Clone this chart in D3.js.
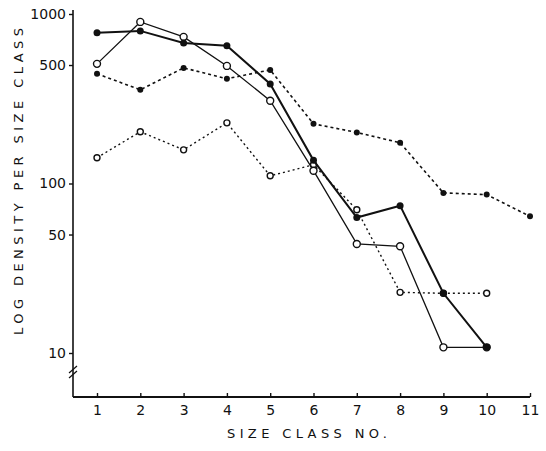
<!DOCTYPE html>
<html>
<head>
<meta charset="utf-8">
<script src="https://cdn.jsdelivr.net/npm/d3@7.9.0/dist/d3.min.js"></script>
<style>
  body { margin: 0; background: #fff; }
  svg { display: block; }
  text { font-family: "DejaVu Sans", sans-serif; fill: #111; }
</style>
</head>
<body>
<svg id="chart" width="546" height="451"></svg>
<script>
// ---------- Data ----------
const sizeClasses = [1, 2, 3, 4, 5, 6, 7, 8, 9, 10, 11];
const yTickValues = [10, 50, 100, 500, 1000];

// solid line, filled circles
const solidFilled = [775, 795, 675, 650, 387, 137, 63, 74, 22.5, 10.8];
// solid line, open circles
const solidOpen = [508, 898, 733, 494, 308, 119, 44, 42.6, 10.8, 10.8];
// dotted line, filled dots
const dottedFilled = [444, 357, 481, 415, 468, 225, 200, 174, 88, 86, 64];
// dotted line, open circles
const dottedOpen = [142, 202, 158, 228, 111, 129, 70, 22.8, 22.5, 22.5];

// ---------- Setup ----------
const svg = d3.select("#chart");
const x = d3.scaleLinear().domain([1, 11]).range([97, 530]);
const y = d3.scaleLog().domain([10, 1000]).range([353, 14]);

const axisX = 73, axisY = 397;

// ---------- Axes ----------
svg.append("line")
  .attr("x1", axisX).attr("x2", axisX)
  .attr("y1", 10).attr("y2", axisY)
  .attr("stroke", "#111").attr("stroke-width", 1.6);

svg.append("line")
  .attr("x1", axisX).attr("x2", x(11))
  .attr("y1", axisY).attr("y2", axisY)
  .attr("stroke", "#111").attr("stroke-width", 1.8);

// axis break marks
[0, 5].forEach((off) => {
  svg.append("line")
    .attr("x1", axisX - 4).attr("y1", 373 + off)
    .attr("x2", axisX + 4).attr("y2", 366 + off)
    .attr("stroke", "#111").attr("stroke-width", 1.2);
});

const yAxis = d3.axisLeft(y)
  .tickValues(yTickValues)
  .tickFormat(d3.format("d"))
  .tickSize(4)
  .tickPadding(3);

const gy = svg.append("g").attr("transform", `translate(${axisX},0)`).call(yAxis);
gy.select(".domain").remove();
gy.selectAll("text").attr("font-size", 14).attr("fill", "#111");
gy.selectAll("line").attr("stroke", "#111").attr("stroke-width", 1.4);

const xAxis = d3.axisBottom(x)
  .tickValues(sizeClasses)
  .tickFormat(d3.format("d"))
  .tickSize(-4)
  .tickPadding(8);

const gx = svg.append("g").attr("transform", `translate(0,${axisY})`).call(xAxis);
gx.select(".domain").remove();
gx.selectAll("text").attr("font-size", 14).attr("fill", "#111");
gx.selectAll("line").attr("stroke", "#111").attr("stroke-width", 1.4);

// ---------- Axis titles ----------
svg.append("text")
  .attr("x", 227).attr("y", 438)
  .attr("font-size", 13)
  .attr("textLength", 160)
  .attr("lengthAdjust", "spacing")
  .text("SIZE CLASS NO.");

svg.append("text")
  .attr("transform", "translate(23,335) rotate(-90)")
  .attr("font-size", 13)
  .attr("textLength", 307)
  .attr("lengthAdjust", "spacing")
  .text("LOG DENSITY PER SIZE CLASS");

// ---------- Series ----------
const line = d3.line()
  .x((d, i) => x(sizeClasses[i]))
  .y((d) => y(d));

function drawSeries(values, opts) {
  svg.append("path")
    .datum(values)
    .attr("d", line)
    .attr("fill", "none")
    .attr("stroke", "#111")
    .attr("stroke-width", opts.width)
    .attr("stroke-dasharray", opts.dash || null);

  svg.selectAll(null)
    .data(values)
    .join("circle")
    .attr("cx", (d, i) => x(sizeClasses[i]))
    .attr("cy", (d) => y(d))
    .attr("r", opts.r)
    .attr("fill", opts.filled ? "#111" : "#fff")
    .attr("stroke", "#111")
    .attr("stroke-width", opts.filled ? 0 : 1.4);
}

drawSeries(dottedOpen, { width: 1.4, dash: "2,3", r: 3, filled: false });
drawSeries(dottedFilled, { width: 1.6, dash: "3,3", r: 3, filled: true });
drawSeries(solidOpen, { width: 1.3, r: 3.5, filled: false });
drawSeries(solidFilled, { width: 2, r: 3.5, filled: true });
</script>
</body>
</html>
